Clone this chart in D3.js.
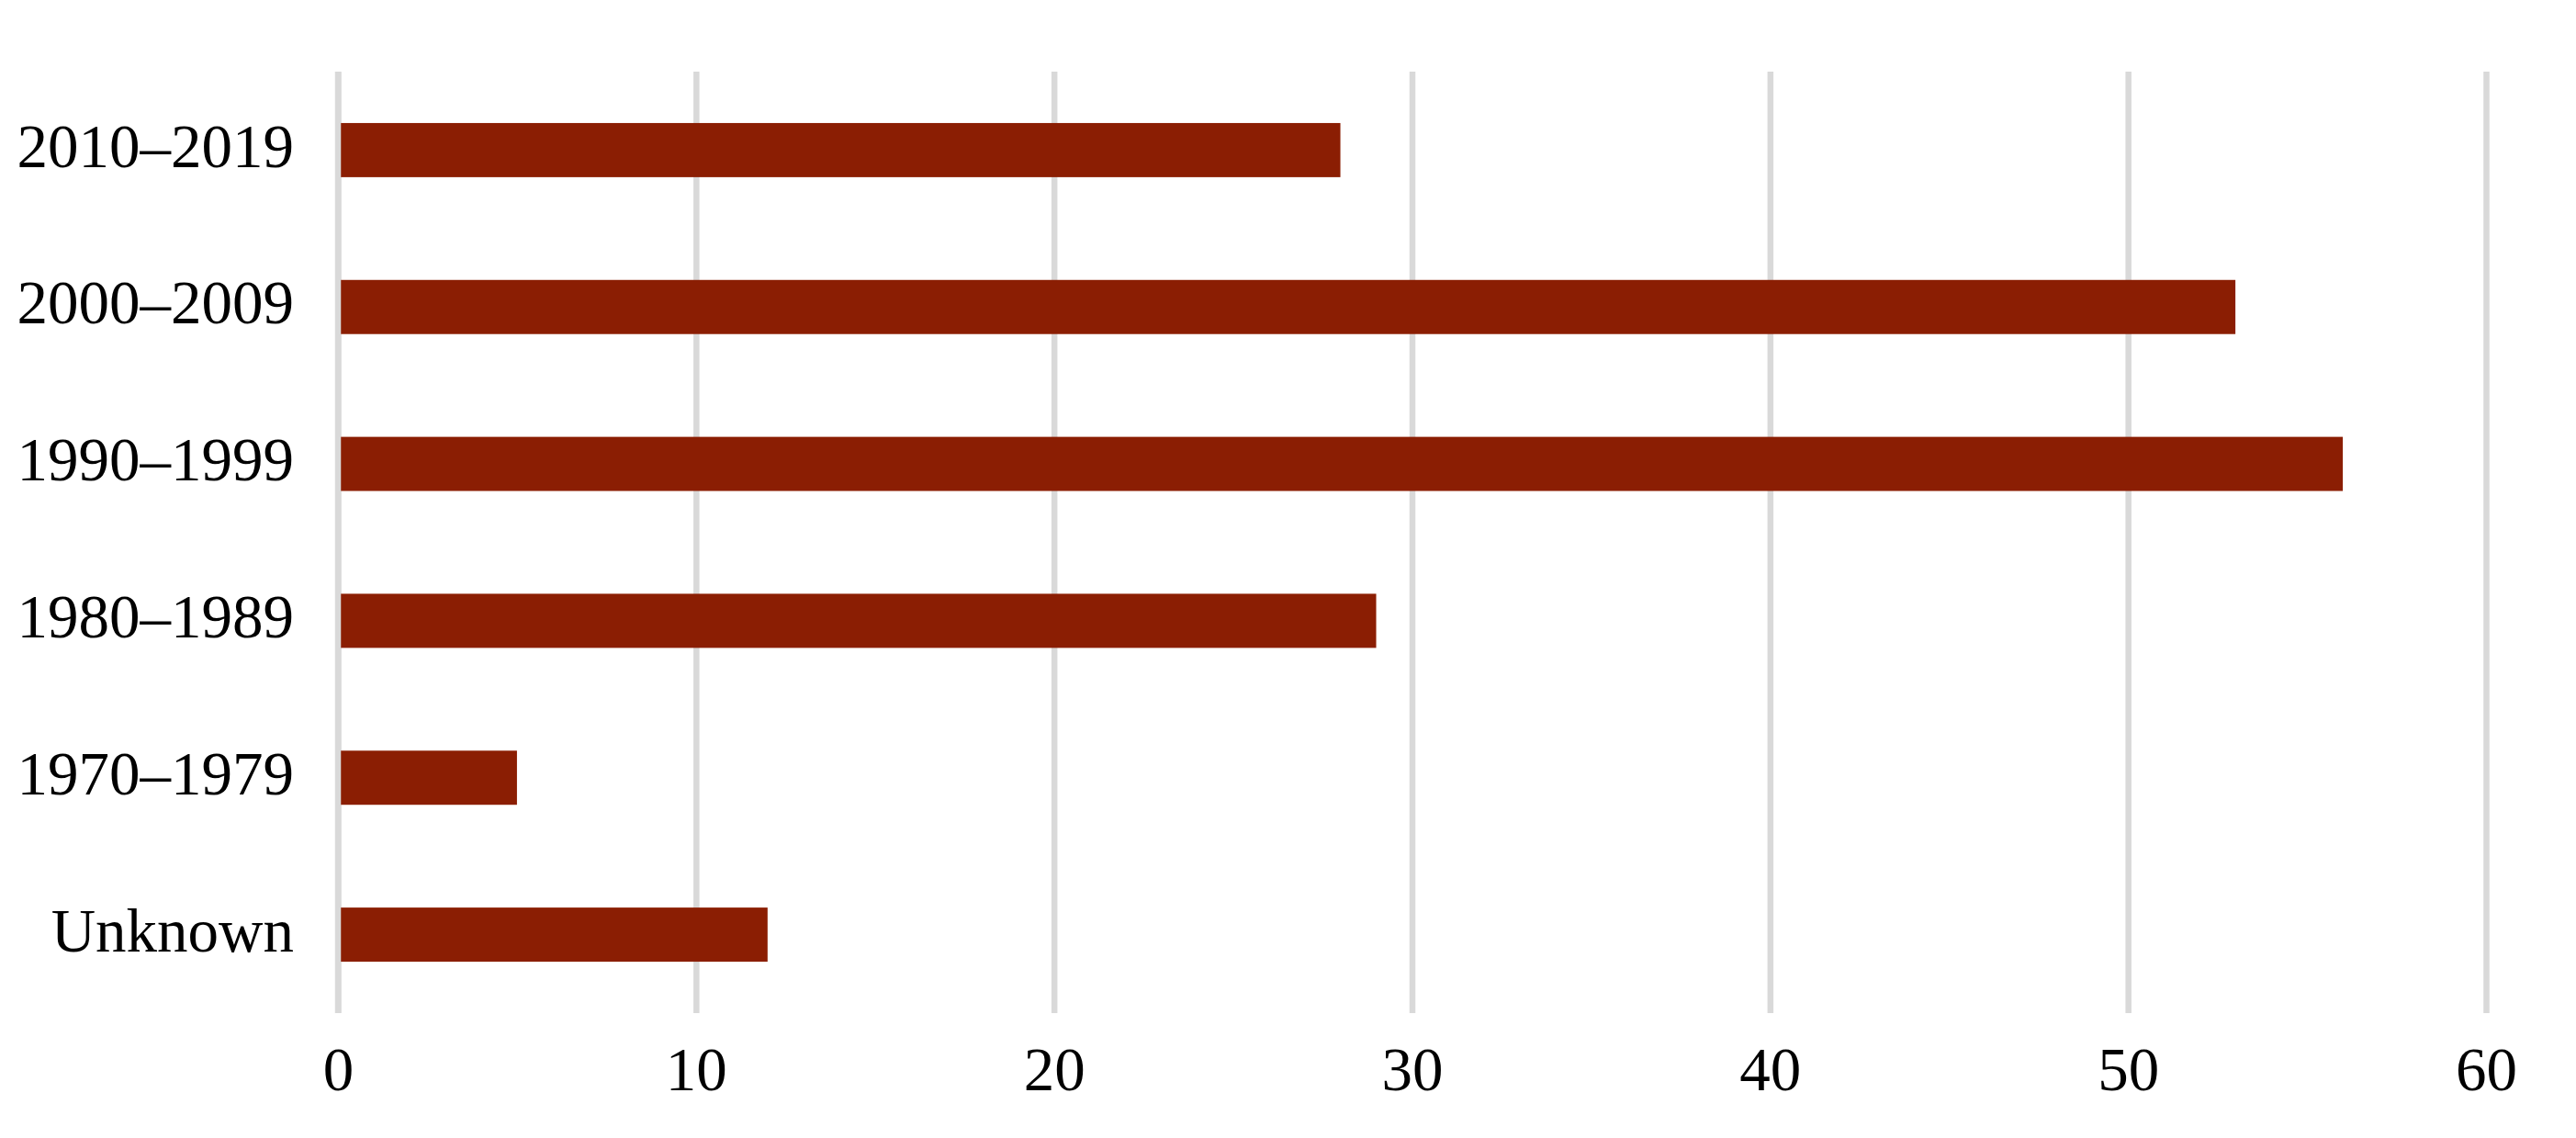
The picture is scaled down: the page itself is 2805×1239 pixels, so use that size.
<!DOCTYPE html>
<html>
<head>
<meta charset="utf-8">
<script src="https://cdn.jsdelivr.net/npm/d3@7"></script>
<style>
    html, body { margin: 0; padding: 0; background: #fff; }
    text { font-family: "Liberation Serif", "DejaVu Serif", serif; fill: #000; }
</style>
</head>
<body>
<div id="chart"></div>
<script>
// decades, top to bottom
const categories = ["2010–2019", "2000–2009", "1990–1999", "1980–1989", "1970–1979", "Unknown"]
const counts = [28, 53, 56, 29, 5, 12]
const xTicks = [0, 10, 20, 30, 40, 50, 60]

const width = 2805
const height = 1239
const margin = { top: 78, right: 98, bottom: 136, left: 368 }

const data = categories.map((c, i) => ({ label: c, value: counts[i] }))

const svg = d3.select("#chart")
    .append("svg")
        .attr("width", width)
        .attr("height", height)

const x = d3.scaleLinear()
    .domain([0, 60])
    .range([margin.left, width - margin.right])

const y = d3.scaleBand()
    .domain(categories)
    .range([margin.top, height - margin.bottom])
    .paddingInner(0.655)
    .paddingOuter(0.3275)

// vertical grid lines
const grid = svg.append("g")
    .attr("class", "grid")
    .attr("transform", "translate(0," + (height - margin.bottom) + ")")
    .call(d3.axisBottom(x)
        .tickValues(xTicks)
        .tickSize(-(height - margin.top - margin.bottom))
        .tickFormat(""))
grid.select(".domain").remove()
grid.selectAll("line")
    .attr("stroke", "#d9d9d9")
    .attr("stroke-width", 6.5)

// bars
svg.append("g")
    .selectAll("rect")
    .data(data)
    .enter()
    .append("rect")
        .attr("x", x(0))
        .attr("y", d => y(d.label))
        .attr("width", d => x(d.value) - x(0))
        .attr("height", y.bandwidth())
        .attr("fill", "#8b1e03")

// zero line sits over the bar starts
svg.append("line")
    .attr("x1", x(0)).attr("x2", x(0))
    .attr("y1", margin.top).attr("y2", height - margin.bottom)
    .attr("stroke", "#d9d9d9")
    .attr("stroke-width", 6.5)

// x tick labels
const xAxis = svg.append("g")
    .attr("transform", "translate(0," + (height - margin.bottom) + ")")
    .call(d3.axisBottom(x).tickValues(xTicks).tickSize(0).tickPadding(0))
xAxis.select(".domain").remove()
xAxis.selectAll("text")
    .attr("y", 84)
    .attr("dy", 0)
    .attr("font-size", 67)
    .attr("font-family", "Liberation Serif, DejaVu Serif, serif")

// category labels
const yAxis = svg.append("g")
    .attr("transform", "translate(" + x(0) + ",0)")
    .call(d3.axisLeft(y).tickSize(0).tickPadding(0))
yAxis.select(".domain").remove()
yAxis.selectAll("text")
    .attr("x", -48)
    .attr("dy", "0.27em")
    .attr("font-size", 67)
    .attr("font-family", "Liberation Serif, DejaVu Serif, serif")
</script>
</body>
</html>
